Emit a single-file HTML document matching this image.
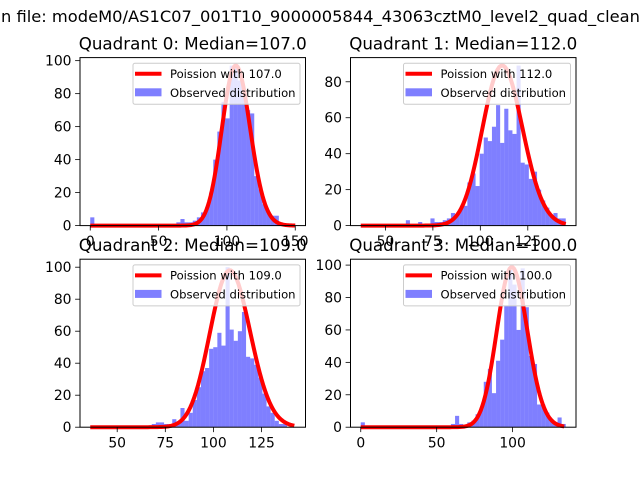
<!DOCTYPE html>
<html><head><meta charset="utf-8"><style>
html,body{margin:0;padding:0;background:#fff;}
svg{display:block;font-family:"DejaVu Sans","Liberation Sans",sans-serif;}
</style></head>
<body>
<svg id="fig" width="640" height="480" viewBox="0 0 640 480">
<rect width="640" height="480" fill="#fff"/>
<text id="sup" y="22" font-size="16.3" fill="#000"><tspan id="pre">Histogram i</tspan>n file: modeM0/AS1C07_001T10_9000005844_43063cztM0_level2_quad_clean.evt</text>
</svg>
<script>
// ---- data ----
const titles = ["Quadrant 0: Median=107.0","Quadrant 1: Median=112.0","Quadrant 2: Median=109.0","Quadrant 3: Median=100.0"];
const lambdas = [107, 112, 109, 100];
const curvePeaks = [97, 89, 98, 98.7];
const curveStart = [0, 37, 36, 0];
const curveEnd = [150, 145, 142, 134];
const binStart = [0, 37, 36, 0];
const binWidth = [3, 2.16, 2.13, 2.7];
const counts0 = [5,0,0,0,0,0,0,0,0,0,0,0,0,0,0,0,0,0,0,0,0,2,4,2,2,3,5,8,11,20,40,57,75,65,97,96,88,80,70,68,30,22,13,8,6,6,1,0,0,0];
const counts1 = [0,0,0,0,0,0,0,0,0,0,0,3,0,0,2,0,0,4,2,2,3,4,7,6,10,11,24,29,22,40,49,47,55,67,46,65,53,51,89,35,34,26,30,20,14,10,5,7,4,4];
const counts2 = [0,0,0,0,0,0,0,0,0,0,0,0,0,0,0,2,3,3,2,2,5,2,12,4,9,17,25,35,37,49,50,59,51,100,61,54,60,72,44,43,39,31,21,13,9,4,2,2,0,0];
const counts3 = [3,0,0,0,0,0,0,0,0,0,0,0,0,0,0,0,0,0,0,0,0,0,2,7,2,0,3,4,8,12,28,36,21,41,54,75,97,88,60,98,74,44,39,14,14,9,5,3,6,2];
const xTicks0 = [0,50,100,150], xTicks1 = [50,75,100,125], xTicks2 = [50,75,100,125], xTicks3 = [0,50,100];
const yTicks0 = [0,20,40,60,80,100], yTicks1 = [0,20,40,60,80], yTicks2 = [0,20,40,60,80,100], yTicks3 = [0,20,40,60,80,100];
const legendLabels = ["Poission with 107.0","Poission with 112.0","Poission with 109.0","Poission with 100.0"];
// ---- layout ----
const NS = "http://www.w3.org/2000/svg";
const svg = document.getElementById('fig');
const pre = document.getElementById('pre');
document.getElementById('sup').setAttribute('x', (-pre.getComputedTextLength()+1).toFixed(1));
const boxes = [[80,57.6,225.5,168],[350.5,57.6,225.5,168],[80,259.2,225.5,168],[350.5,259.2,225.5,168]];
const allCounts = [counts0,counts1,counts2,counts3];
const allX = [xTicks0,xTicks1,xTicks2,xTicks3];
const allY = [yTicks0,yTicks1,yTicks2,yTicks3];
function mk(tag, attrs, parent){const e=document.createElementNS(NS,tag);for(const k in attrs)e.setAttribute(k,attrs[k]);(parent||svg).appendChild(e);return e;}
function logFact(k){let s=0;for(let i=2;i<=k;i++)s+=Math.log(i);return s;}
for(let p=0;p<4;p++){
  const [L,T,W,H]=boxes[p];
  const cnt=allCounts[p];
  const dmin=Math.min(binStart[p],curveStart[p]);
  const dmax=Math.max(binStart[p]+binWidth[p]*cnt.length,curveEnd[p]);
  const span=dmax-dmin;
  const x0=dmin-span*0.05, x1=dmax+span*0.05;
  const ymaxData=Math.max(Math.max(...cnt),curvePeaks[p]);
  const y1=ymaxData*1.05;
  const sx=v=>L+(v-x0)/(x1-x0)*W;
  const sy=v=>T+H-v/y1*H;
  const g=mk('g',{});
  
  
  for(let i=0;i<cnt.length;i++){
    if(cnt[i]<=0)continue;
    const a=binStart[p]+i*binWidth[p];
    const r=mk('rect',{x:sx(a),y:sy(cnt[i]),width:sx(a+binWidth[p])-sx(a),height:sy(0)-sy(cnt[i]),fill:'#0000ff','fill-opacity':0.5},g);
    
    
  }
  const lam=lambdas[p];
  const lp=k=>k*Math.log(lam)-lam-logFact(k);
  let mx=-1e9;for(let k=curveStart[p];k<=curveEnd[p];k++)mx=Math.max(mx,lp(k));
  let d='';
  for(let k=curveStart[p];k<=curveEnd[p];k++){
    const v=curvePeaks[p]*Math.exp(lp(k)-mx);
    d+=(d?'L':'M')+sx(k).toFixed(2)+','+sy(v).toFixed(2);
  }
  const c=mk('path',{d:d,fill:'none',stroke:'#ff0000','stroke-width':4,'stroke-linejoin':'round'},g);
  
  
  const f=mk('rect',{x:L,y:T,width:W,height:H,fill:'none',stroke:'#000','stroke-width':1},g);
  
  
  for(const t of allX[p]){
    const X=sx(t);
    mk('line',{x1:X,x2:X,y1:T+H,y2:T+H+4.9,stroke:'#000','stroke-width':0.8},g);
    const tx=mk('text',{x:X,y:T+H+20.5,'font-size':13.9,'text-anchor':'middle'},g);
    tx.textContent=t;
    
    
  }
  for(const t of allY[p]){
    const Y=sy(t);
    mk('line',{x1:L-4.9,x2:L,y1:Y,y2:Y,stroke:'#000','stroke-width':0.8},g);
    const ty=mk('text',{x:L-8.5,y:Y+5,'font-size':13.9,'text-anchor':'end'},g);
    ty.textContent=t;
    
    
  }
  const tt=mk('text',{x:L+W/2,y:T-8,'font-size':16.7,'text-anchor':'middle'},g);
  tt.textContent=titles[p];
  
  
  const lg=mk('g',{},g);
  
  
  const lw=167, lh=41, lx=L+W-5.5-lw, ly=T+5.7;
  mk('rect',{x:lx,y:ly,width:lw,height:lh,rx:2,fill:'#fff','fill-opacity':0.8,stroke:'#cccccc','stroke-width':1},lg);
  mk('line',{x1:lx+2,x2:lx+28.5,y1:ly+10.5,y2:ly+10.5,stroke:'#ff0000','stroke-width':4},lg);
  mk('rect',{x:lx+2,y:ly+25,width:26.5,height:8,fill:'#0000ff','fill-opacity':0.5},lg);
  const l1=mk('text',{x:lx+37,y:ly+14.5,'font-size':11.6},lg);
  l1.textContent=legendLabels[p];
  
  
  const l2=mk('text',{x:lx+37,y:ly+33.5,'font-size':11.6},lg);
  l2.textContent='Observed distribution';
  
  
}
</script>
</body></html>
